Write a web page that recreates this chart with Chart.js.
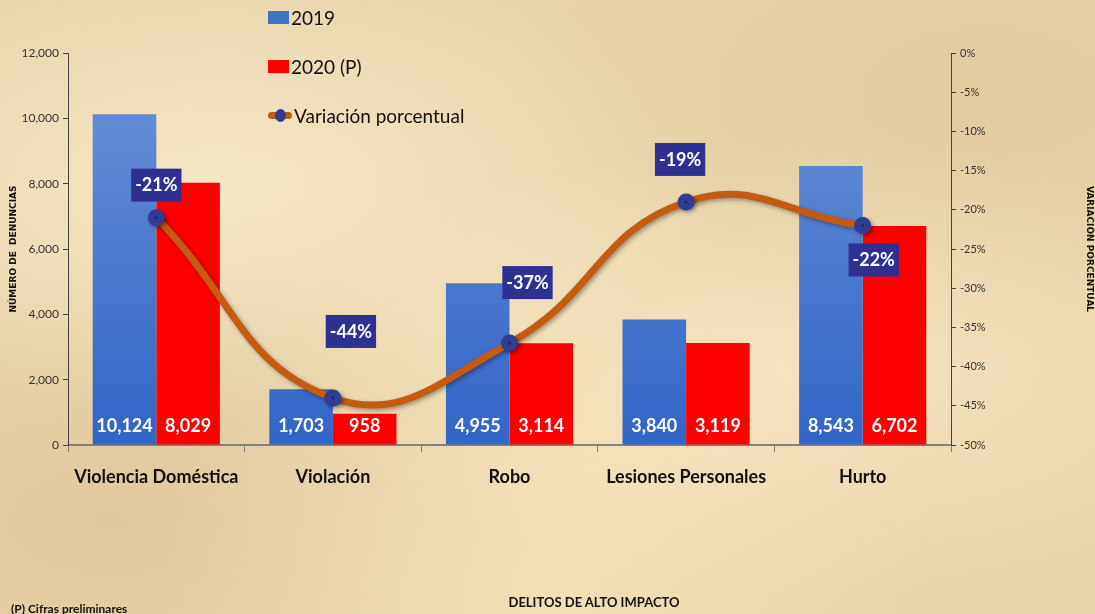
<!DOCTYPE html>
<html>
<head>
<meta charset="utf-8">
<script src="https://cdn.jsdelivr.net/npm/chart.js@4/dist/chart.umd.min.js"></script>
<style>
  html, body { margin: 0; padding: 0; }
  body {
    width: 1095px; height: 614px; overflow: hidden; position: relative;
    background-color: #e8d4a9;
    background-image:
      radial-gradient(ellipse at 20% 30%, rgba(255,245,220,0.55) 0%, rgba(255,245,220,0) 40%),
      radial-gradient(ellipse at 75% 60%, rgba(255,240,210,0.5) 0%, rgba(255,240,210,0) 45%),
      radial-gradient(ellipse at 50% 95%, rgba(250,232,190,0.6) 0%, rgba(250,232,190,0) 50%),
      radial-gradient(ellipse at 10% 85%, rgba(200,170,120,0.25) 0%, rgba(200,170,120,0) 35%),
      radial-gradient(ellipse at 90% 15%, rgba(200,170,120,0.2) 0%, rgba(200,170,120,0) 35%);
    font-family: Lato, sans-serif;
  }
  #wrap { position: absolute; left: 0; top: 0; width: 1095px; height: 614px; }
  .legend { position: absolute; left: 268px; font-size: 19px; color: #111; display: flex; align-items: center; }
  .sw { width: 21px; height: 13px; margin-right: 2px; }
  .ln { width: 24px; height: 7px; background: #c55a11; border-radius: 4px; position: relative; margin-right: 2px; }
  .ln:after { content: ""; position: absolute; left: 7px; top: -3px; width: 11px; height: 13px; border-radius: 50%; background: #2f3d94; }
  #note { position: absolute; left: 11px; top: 601px; font-size: 12px; font-weight: bold; color: #111; }
  #xtitle { position: absolute; left: 494px; width: 200px; text-align: center; top: 594px; font-size: 13px; font-weight: bold; color: #111; }
</style>
</head>
<body>
<div id="wrap"><canvas id="chart" width="1095" height="614"></canvas></div>
<div class="legend" style="top:6px"><div class="sw" style="background:#4472c4"></div>2019</div>
<div class="legend" style="top:55px"><div class="sw" style="background:#ff0000"></div>2020 (P)</div>
<div class="legend" style="top:104px"><div class="ln"></div>Variación porcentual</div>
<div id="xtitle">DELITOS DE ALTO IMPACTO</div>
<div id="note">(P) Cifras preliminares</div>
<script>
var categories = ["Violencia Doméstica", "Violación", "Robo", "Lesiones Personales", "Hurto"];
var values2019 = [10124, 1703, 4955, 3840, 8543];
var values2020 = [8029, 958, 3114, 3119, 6702];
var variation = [-0.21, -0.44, -0.37, -0.19, -0.22];

// label box offsets (px) relative to each line point
var pctOffsets = [[0, -33], [18, -67], [18, -61], [-6, -43], [11, 34]];

var FONT = "Lato, sans-serif";

function blueGradient(ctx) {
    var area = ctx.chart.chartArea;
    if (!area) return "#4472c4";
    var g = ctx.chart.ctx.createLinearGradient(0, area.top, 0, area.bottom);
    g.addColorStop(0, "#6a93d8");
    g.addColorStop(1, "#3165c6");
    return g;
}

var labelsPlugin = {
    id: "valueLabels",
    afterDatasetsDraw: function (chart) {
        var c = chart.ctx;
        c.save();
        c.font = "bold 18px " + FONT;
        c.fillStyle = "#ffffff";
        c.textAlign = "center";
        c.textBaseline = "middle";
        [0, 1].forEach(function (di) {
            chart.getDatasetMeta(di).data.forEach(function (bar, i) {
                var v = chart.data.datasets[di].data[i];
                c.fillText(v.toLocaleString("en-US"), bar.x, 426);
            });
        });
        var meta = chart.getDatasetMeta(2);
        meta.data.forEach(function (pt, i) {
            var txt = Math.round(variation[i] * 100) + "%";
            var cx = pt.x + pctOffsets[i][0];
            var cy = pt.y + pctOffsets[i][1];
            c.font = "bold 18px " + FONT;
            var w = c.measureText(txt).width + 8;
            c.fillStyle = "#2e3192";
            c.fillRect(cx - w / 2, cy - 16, w, 33);
            c.fillStyle = "#ffffff";
            c.fillText(txt, cx, cy + 1);
        });
        c.restore();
    }
};

var shadowPlugin = {
    id: "lineShadow",
    beforeDatasetDraw: function (chart, args) {
        if (args.index === 2) {
            chart.ctx.save();
            chart.ctx.shadowColor = "rgba(0,0,0,0.35)";
            chart.ctx.shadowBlur = 4;
            chart.ctx.shadowOffsetX = 2;
            chart.ctx.shadowOffsetY = 2;
        }
    },
    afterDatasetDraw: function (chart, args) {
        if (args.index === 2) chart.ctx.restore();
    }
};

var ctx = document.getElementById("chart");
var myChart = new Chart(ctx, {
    type: "bar",
    data: {
        labels: categories,
        datasets: [
            {
                label: "2019",
                data: values2019,
                backgroundColor: blueGradient,
                yAxisID: "y",
                order: 2,
                categoryPercentage: 0.72,
                barPercentage: 1.0
            },
            {
                label: "2020 (P)",
                data: values2020,
                backgroundColor: "#ff0000",
                yAxisID: "y",
                order: 2,
                categoryPercentage: 0.72,
                barPercentage: 1.0
            },
            {
                type: "line",
                label: "Variación porcentual",
                data: variation,
                yAxisID: "y1",
                borderColor: "#c55a11",
                borderWidth: 7,
                tension: 0.45,
                pointRadius: 5,
                pointBackgroundColor: "#2f3d94",
                pointBorderColor: "#2f3d94",
                order: 1
            }
        ]
    },
    options: {
        responsive: false,
        animation: false,
        layout: { padding: { top: 53, left: 0, right: 0, bottom: 0 } },
        plugins: { legend: { display: false }, tooltip: { enabled: false } },
        scales: {
            x: {
                grid: { drawOnChartArea: false, offset: true, color: "#808080", tickLength: 7 },
                border: { color: "#808080", width: 2 },
                ticks: { color: "#111", font: { family: FONT, size: 18, weight: "bold" }, padding: 14,
                    maxRotation: 0, minRotation: 0, autoSkip: false },
                afterFit: function (s) { s.height = 169; s.paddingLeft = 0; s.paddingRight = 0; }
            },
            y: {
                position: "left",
                min: 0, max: 12000,
                ticks: { stepSize: 2000, color: "#333", font: { family: FONT, size: 12 }, padding: 4,
                    callback: function (v) { return v.toLocaleString("en-US"); } },
                grid: { drawOnChartArea: false, color: "#444", tickLength: 5 },
                border: { color: "#444", width: 1 },
                title: { display: true, text: "NÚMERO DE  DENUNCIAS", color: "#111", font: { family: "'DejaVu Sans', sans-serif", size: 9, weight: "bold" }, padding: { top: 8, bottom: 0 } },
                afterFit: function (s) { s.width = 68; }
            },
            y1: {
                position: "right",
                min: -0.5, max: 0,
                ticks: { stepSize: 0.05, color: "#333", font: { family: FONT, size: 11 }, padding: 4,
                    callback: function (v) { return Math.round(v * 100) + "%"; } },
                grid: { drawOnChartArea: false, color: "#444", tickLength: 5 },
                border: { color: "#444", width: 1 },
                title: { display: true, text: "VARIACIÓN PORCENTUAL", color: "#111", font: { family: "'DejaVu Sans', sans-serif", size: 9, weight: "bold" }, padding: 0 },
                afterFit: function (s) { s.width = 144; }
            }
        }
    },
    plugins: [labelsPlugin, shadowPlugin]
});
</script>
</body>
</html>
